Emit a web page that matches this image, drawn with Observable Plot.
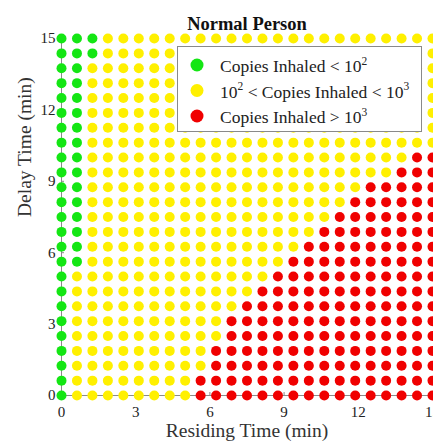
<!DOCTYPE html>
<html>
<head>
<meta charset="utf-8">
<script src="https://cdn.jsdelivr.net/npm/d3@7"></script>
<script src="https://cdn.jsdelivr.net/npm/@observablehq/plot@0.6"></script>
<style>
  html, body { margin: 0; padding: 0; background: #fff; overflow: hidden; }
  #wrap { position: relative; width: 433px; height: 443px; overflow: hidden; }
</style>
</head>
<body>
<div id="wrap"></div>
<script>
// ---- data ----
const residingTimes = [0, 0.625, 1.25, 1.875, 2.5, 3.125, 3.75, 4.375, 5, 5.625, 6.25, 6.875, 7.5,
  8.125, 8.75, 9.375, 10, 10.625, 11.25, 11.875, 12.5, 13.125, 13.75, 14.375, 15];
const delayTimes = [0, 0.625, 1.25, 1.875, 2.5, 3.125, 3.75, 4.375, 5, 5.625, 6.25, 6.875, 7.5,
  8.125, 8.75, 9.375, 10, 10.625, 11.25, 11.875, 12.5, 13.125, 13.75, 14.375, 15];
// one string per delay-time row, top (15 min) to bottom (0 min); G = <1e2, Y = 1e2..1e3, R = >1e3
const levelRows = [
  "GGGYY YYYYY YYYYY YYYYY YYYYY",
  "GGGYY YYYYY YYYYY YYYYY YYYYY",
  "GGYYY YYYYY YYYYY YYYYY YYYYY",
  "GGYYY YYYYY YYYYY YYYYY YYYYY",
  "GGYYY YYYYY YYYYY YYYYY YYYYY",
  "GGYYY YYYYY YYYYY YYYYY YYYYY",
  "GGYYY YYYYY YYYYY YYYYY YYYYY",
  "GGYYY YYYYY YYYYY YYYYY YYYYY",
  "GGYYY YYYYY YYYYY YYYYY YYYRR",
  "GGYYY YYYYY YYYYY YYYYY YYRRR",
  "GGYYY YYYYY YYYYY YYYYY RRRRR",
  "GGYYY YYYYY YYYYY YYYYR RRRRR",
  "GGYYY YYYYY YYYYY YYYRR RRRRR",
  "GGYYY YYYYY YYYYY YYRRR RRRRR",
  "GGYYY YYYYY YYYYY YRRRR RRRRR",
  "GGYYY YYYYY YYYYY RRRRR RRRRR",
  "GYYYY YYYYY YYYYR RRRRR RRRRR",
  "GYYYY YYYYY YYYRR RRRRR RRRRR",
  "GYYYY YYYYY YYRRR RRRRR RRRRR",
  "GYYYY YYYYY YRRRR RRRRR RRRRR",
  "GYYYY YYYYY YRRRR RRRRR RRRRR",
  "GYYYY YYYYY RRRRR RRRRR RRRRR",
  "GYYYY YYYYY RRRRR RRRRR RRRRR",
  "GYYYY YYYYR RRRRR RRRRR RRRRR",
  "GYYYY YYYYR RRRRR RRRRR RRRRR"
];
const levelCodes = ["G", "Y", "R"];
const levelColors = ["#14e614", "#fff000", "#f00000"];
// legend texts: [before, superscript, middle, superscript]
const legendTexts = [
  ["Copies Inhaled < 10", "2", "", ""],
  ["10", "2", " < Copies Inhaled < 10", "3"],
  ["Copies Inhaled > 10", "3", "", ""]
];
const xTicks = [0, 3, 6, 9, 12, 15];
const yTicks = [0, 3, 6, 9, 12, 15];
const titleText = "Normal Person";
const xLabel = "Residing Time (min)";
const yLabel = "Delay Time (min)";

// ---- build cells ----
const cells = [];
levelRows.forEach((row, r) => {
  const codes = row.replace(/ /g, "");
  const y = delayTimes[delayTimes.length - 1 - r];
  for (let c = 0; c < codes.length; c++) cells.push({x: residingTimes[c], y, level: codes[c]});
});

const serif = "'Liberation Serif', 'Times New Roman', Times, serif";

const chart = Plot.plot({
  width: 433,
  height: 443,
  marginLeft: 61,
  marginRight: 1,
  marginTop: 38,
  marginBottom: 48,
  x: {domain: [0, 15], label: null},
  y: {domain: [0, 15], label: null},
  color: {domain: levelCodes, range: levelColors},
  style: {fontFamily: serif, background: "white", color: "#222", overflow: "visible"},
  marks: [
    Plot.ruleY([0], {stroke: "#8a8a8a", strokeWidth: 1}),
    Plot.ruleX([0], {stroke: "#8a8a8a", strokeWidth: 1}),
    Plot.axisX(xTicks, {tickSize: -3, tickPadding: 14, fontSize: 15, label: null, stroke: "#8a8a8a", fill: "#222"}),
    Plot.axisY(yTicks, {tickSize: -3, tickPadding: 9, fontSize: 15, label: null, stroke: "#8a8a8a", fill: "#222"}),
    Plot.dot(cells, {x: "x", y: "y", fill: "level", r: 5, stroke: null}),
    Plot.text([titleText], {frameAnchor: "top", dy: -22, fontSize: 18.5, fontWeight: "bold", fill: "#111"}),
    Plot.text([xLabel], {frameAnchor: "bottom", dy: 41.5, fontSize: 19.5, fill: "#333"}),
    Plot.text([yLabel], {frameAnchor: "left", dx: -37, rotate: -90, fontSize: 19.5, fill: "#333"})
  ]
});

document.getElementById("wrap").appendChild(chart);

// ---- legend box drawn into the same svg ----
const svg = d3.select(chart.tagName.toLowerCase() === "svg" ? chart : chart.querySelector("svg"));
const lg = svg.append("g").attr("font-family", serif).attr("font-size", 17.5)
  .attr("fill", "#222").attr("text-anchor", "start");
lg.append("rect").attr("x", 177.5).attr("y", 46.5).attr("width", 244).attr("height", 85)
  .attr("fill", "white").attr("stroke", "#8a8a8a").attr("stroke-width", 1);
legendTexts.forEach((t, i) => {
  const base = 72 + i * 25.5;
  lg.append("circle").attr("cx", 197).attr("cy", base - 7).attr("r", 6.5).attr("fill", levelColors[i]);
  const tx = lg.append("text").attr("x", 220).attr("y", base).attr("text-anchor", "start");
  tx.append("tspan").text(t[0]);
  tx.append("tspan").attr("dy", -7.5).attr("font-size", 11.5).text(t[1]);
  if (t[2]) tx.append("tspan").attr("dy", 7.5).text(t[2]);
  if (t[3]) tx.append("tspan").attr("dy", -7.5).attr("font-size", 11.5).text(t[3]);
});
</script>
</body>
</html>
